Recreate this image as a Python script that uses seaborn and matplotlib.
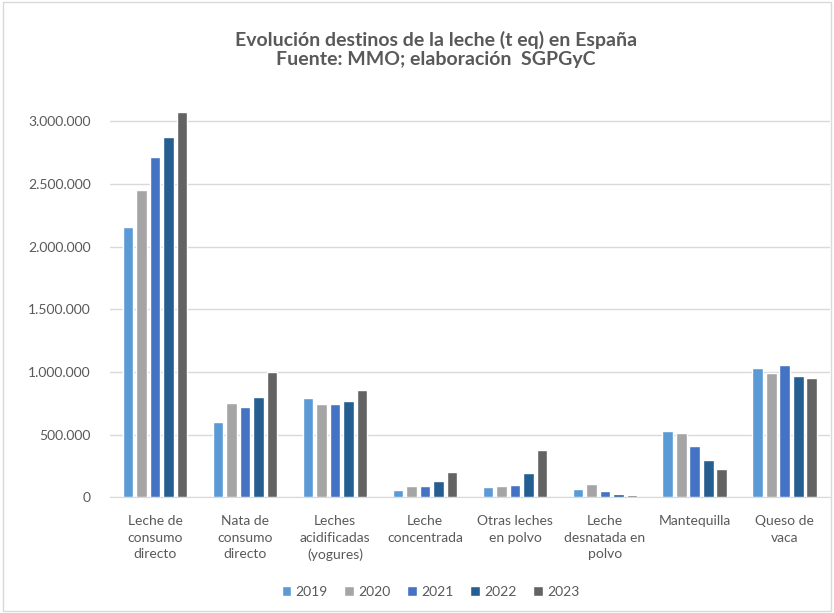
import pandas as pd
import matplotlib.pyplot as plt
import seaborn as sns
from matplotlib.ticker import FuncFormatter
from matplotlib.patches import Rectangle

# datos (t eq)
categorias = ["Leche de\nconsumo\ndirecto", "Nata de\nconsumo\ndirecto",
              "Leches\nacidificadas\n(yogures)", "Leche\nconcentrada",
              "Otras leches\nen polvo", "Leche\ndesnatada en\npolvo",
              "Mantequilla", "Queso de\nvaca"]
anios = ["2019", "2020", "2021", "2022", "2023"]
v2019 = [2154000, 601000, 793000, 58000, 77000, 64000, 527000, 1027000]
v2020 = [2453000, 755000, 740000, 85000, 85000, 107000, 514000, 989000]
v2021 = [2716000, 723000, 745000, 91000, 99000, 48000, 405000, 1056000]
v2022 = [2872000, 801000, 771000, 125000, 192000, 24000, 295000, 969000]
v2023 = [3077000, 995000, 859000, 200000, 378000, 19000, 221000, 953000]
colores = ["#5B9BD5", "#A5A5A5", "#4472C4", "#255E91", "#636363"]

series = [v2019, v2020, v2021, v2022, v2023]
df = pd.DataFrame([
    {"Destino": c, "Año": a, "Valor": v}
    for a, vals in zip(anios, series)
    for c, v in zip(categorias, vals)
])

sns.set_style("white")
plt.rcParams['font.family'] = ['Lato', 'DejaVu Sans']
gris = "#595959"

fig = plt.figure(figsize=(8.34, 6.13), dpi=100)
ax = fig.add_axes([0.132, 0.189, 0.863, 0.654])

sns.barplot(data=df, x="Destino", y="Valor", hue="Año", palette=colores,
            width=0.75, gap=0.2, ax=ax, saturation=1, zorder=3)

ax.set_ylim(0, 3200000)
ax.set_yticks(range(0, 3000001, 500000))
ax.yaxis.set_major_formatter(FuncFormatter(lambda v, p: f"{int(v):,}".replace(",", ".")))
ax.grid(axis="y", color="#D9D9D9", linewidth=1, zorder=0)
ax.set_xlabel("")
ax.set_ylabel("")
for s in ["top", "right", "left"]:
    ax.spines[s].set_visible(False)
ax.spines["bottom"].set_color("#D9D9D9")
ax.tick_params(axis="both", length=0, labelsize=10, colors=gris)
ax.tick_params(axis="x", pad=13)
ax.tick_params(axis="y", pad=14)
for t in ax.get_xticklabels():
    t.set_linespacing(1.45)

fig.text(0.523, 0.92, "Evolución destinos de la leche (t eq) en España\nFuente: MMO; elaboración  SGPGyC",
         ha="center", va="center", fontsize=14, fontweight="bold", color=gris,
         linespacing=1.15)

ax.legend(loc="center", bbox_to_anchor=(0.445, -0.237), ncol=5, frameon=False,
          fontsize=10, labelcolor=gris, handlelength=0.7, handleheight=0.7,
          handletextpad=0.3, columnspacing=1.2)

fig.patches.append(Rectangle((0.003, 0.003), 0.994, 0.994, transform=fig.transFigure,
                             fill=False, edgecolor="#D9D9D9", linewidth=1))

fig.savefig("out.png", dpi=100)
